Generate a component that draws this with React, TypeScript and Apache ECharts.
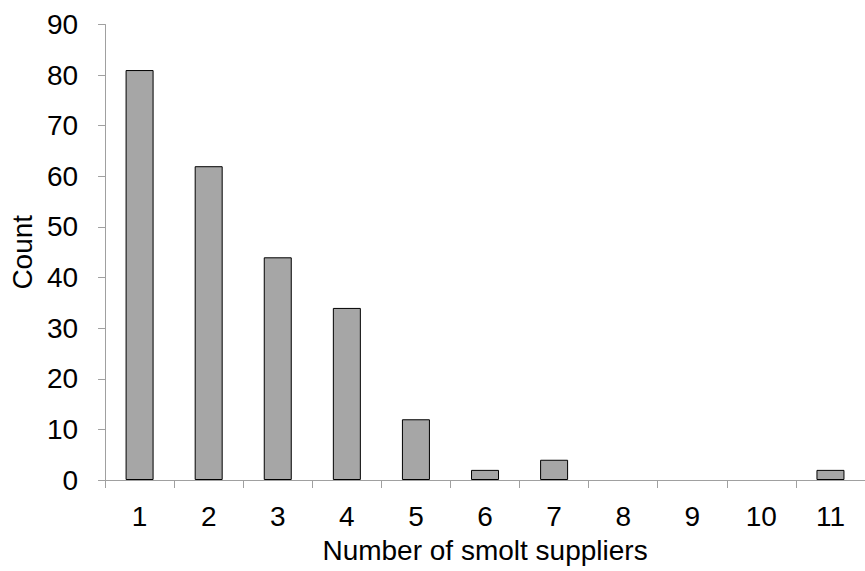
import React, { useEffect, useRef } from "react";
import * as echarts from "echarts";

const categories = ["1", "2", "3", "4", "5", "6", "7", "8", "9", "10", "11"];
const counts = [81, 62, 44, 34, 12, 2, 4, 0, 0, 0, 2];
const yMin = 0;
const yMax = 90;
const yStep = 10;

export default function App() {
  const ref = useRef<HTMLDivElement>(null);
  useEffect(() => {
    if (!ref.current) return;
    const chart = echarts.init(ref.current, undefined, { renderer: "svg" });
    const font = "Liberation Sans, Arial, sans-serif";
    const fs = 28;
    chart.setOption({
      animation: false,
      textStyle: { fontFamily: font, color: "#000" },
      grid: { left: 103.5, top: 24.5, bottom: 91, right: -7, containLabel: false },
      xAxis: {
        type: "category",
        data: categories,
        name: "Number of smolt suppliers",
        nameLocation: "middle",
        nameGap: 56,
        nameTextStyle: { fontSize: fs, color: "#000", fontFamily: font },
        axisLine: { lineStyle: { color: "#a0a0a0", width: 1 } },
        axisTick: { show: true, length: 8, lineStyle: { color: "#a0a0a0" } },
        axisLabel: { fontSize: fs, color: "#000", margin: 22, fontFamily: font },
        splitLine: { show: false },
      },
      yAxis: {
        type: "value",
        min: yMin,
        max: yMax,
        interval: yStep,
        name: "Count",
        nameLocation: "middle",
        nameGap: 62,
        nameTextStyle: { fontSize: fs, color: "#000", fontFamily: font },
        axisLine: { show: true, lineStyle: { color: "#a0a0a0", width: 1 } },
        axisTick: { show: true, length: 7, lineStyle: { color: "#a0a0a0" } },
        axisLabel: { fontSize: fs, color: "#000", margin: 27, fontFamily: font },
        splitLine: { show: false },
      },
      series: [
        {
          type: "bar",
          data: counts.map((v) =>
            v === 0 ? { value: v, itemStyle: { borderWidth: 0, opacity: 0 } } : v
          ),
          barWidth: 28,
          itemStyle: { color: "#a6a6a6", borderColor: "#000", borderWidth: 1 },
        },
      ],
    });
    return () => chart.dispose();
  }, []);
  return <div ref={ref} style={{ width: 865, height: 571, position: "absolute", left: 0, top: 0 }} />;
}
